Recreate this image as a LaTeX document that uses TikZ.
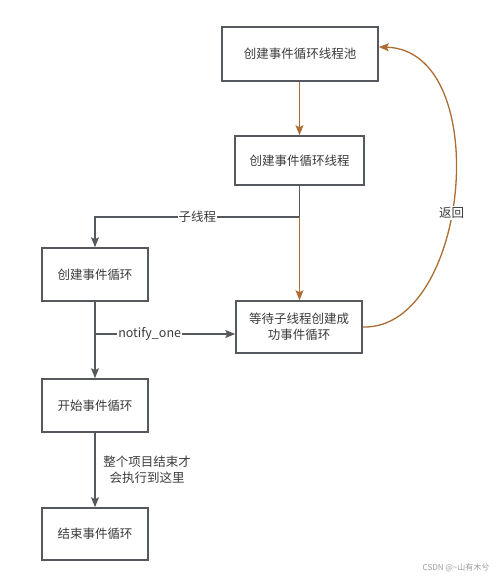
\documentclass[tikz,border=0pt]{standalone}
\usepackage{fontspec}
\setmainfont{Noto Sans CJK SC}
\usetikzlibrary{arrows.meta,calc}
\definecolor{lc}{RGB}{85,88,92}
\definecolor{br}{RGB}{172,108,50}
\definecolor{tc}{RGB}{60,60,60}
\tikzset{
  box/.style={draw=lc,line width=1.6pt,fill=white,inner sep=0pt,font=\fontsize{12.5}{16}\selectfont,text=tc,align=center},
  con/.style={draw=lc,line width=1.4pt,-{Stealth[length=10pt,width=8pt,inset=2pt]}},
  bcon/.style={draw=br,line width=1.3pt,-{Stealth[length=10pt,width=8pt,inset=2pt]}},
  lbl/.style={fill=white,inner sep=1pt,font=\fontsize{12.5}{16}\selectfont,text=tc,align=center},
}
\begin{document}
\begin{tikzpicture}[x=1pt,y=-1pt]
\useasboundingbox (0,0) rectangle (502,582);
\node[box,minimum width=156pt,minimum height=54pt] (b1) at (300,54) {创建事件循环线程池};
\node[box,minimum width=129pt,minimum height=49pt] (b2) at (299.5,160.5) {创建事件循环线程};
\node[box,minimum width=106pt,minimum height=53pt] (b3) at (95,274.5) {创建事件循环};
\node[box,minimum width=126pt,minimum height=52pt] (b4) at (299,327) {等待子线程创建成\\功事件循环};
\node[box,minimum width=106pt,minimum height=53pt] (b5) at (95,405.5) {开始事件循环};
\node[box,minimum width=106pt,minimum height=52pt] (b6) at (95,534) {结束事件循环};
\coordinate (j1) at (299.5,217);
\coordinate (j2) at (95,334);
\draw[bcon] (b1.south -| b2.north) -- (b2.north);
\draw[con] (b2.south) -- (j1) -- (j1 -| b3.north) node[lbl,pos=0.5] (l1) {子线程} -- (b3.north);
\draw[bcon] (j1) -- (j1 |- b4.north);
\draw[con] (b3.south) -- (b5.north);
\draw[con] (j2) -- (j2 -| b4.west) node[lbl,pos=0.39] (l2) {notify\_one};
\draw[con] (b5.south) -- (b6.north) node[lbl,midway,xshift=52pt,fill=none] (l3) {整个项目结束才\\会执行到这里};
\draw[bcon] (b4.east) .. controls (470,330) and (495,50) .. ($(b1.east)+(0,-7)$) node[lbl,pos=0.443] (l4) {返回};
\node[font=\fontsize{8}{10}\selectfont,text=black!40] (wm) at (456,568) {CSDN @\textasciitilde 山有木兮};
\end{tikzpicture}
\end{document}
